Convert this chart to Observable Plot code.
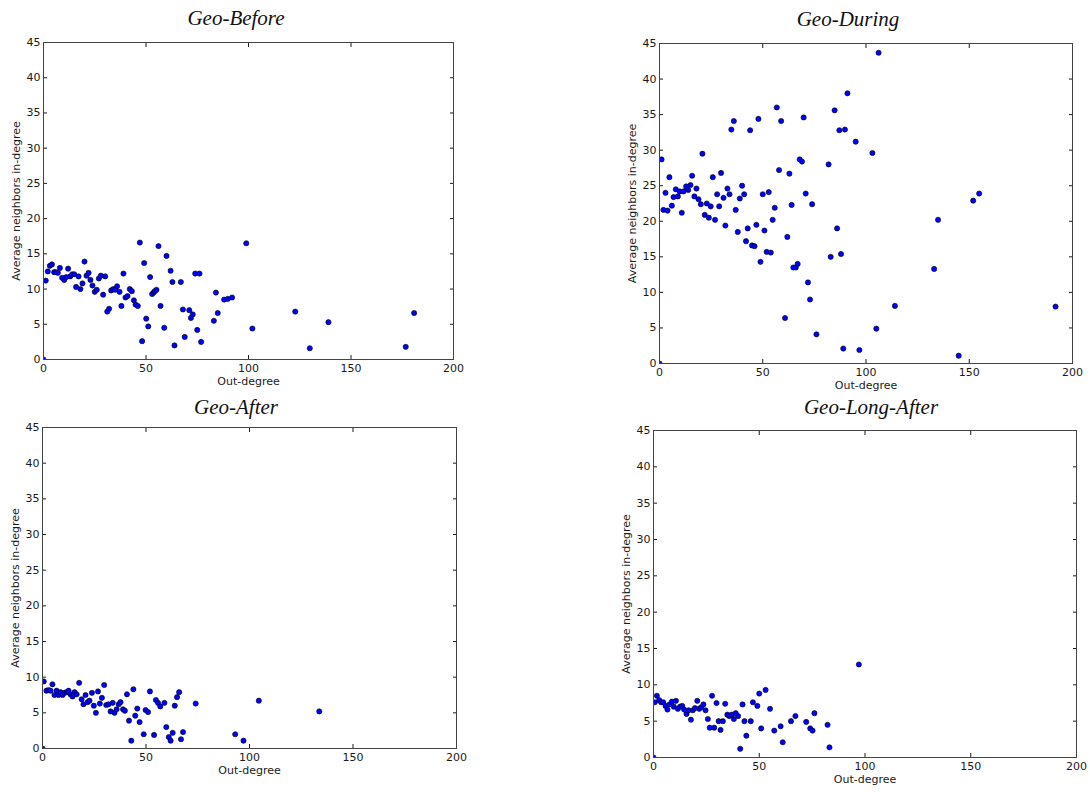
<!DOCTYPE html>
<html><head><meta charset="utf-8">
<script src="https://cdn.jsdelivr.net/npm/d3@7"></script>
<script src="https://cdn.jsdelivr.net/npm/@observablehq/plot@0.6"></script>
<style>
body{margin:0;background:#fff;width:1090px;height:792px;position:relative;overflow:hidden;font-family:"DejaVu Sans",sans-serif;}
.panel{position:absolute;}
.title{position:absolute;font-family:"Liberation Serif","Times New Roman",serif;font-style:italic;font-size:21px;line-height:1;color:#111;transform:translateX(-50%);white-space:nowrap;}
</style></head><body>
<script>
// ---- data ----
const xTicks = [0, 50, 100, 150, 200];
const yTicks = [0, 5, 10, 15, 20, 25, 30, 35, 40, 45];
const xLabel = "Out-degree";
const yLabel = "Average neighbors in-degree";
const titles = ["Geo-Before", "Geo-During", "Geo-After", "Geo-Long-After"];

const beforeOut = [0,1.1,2.1,3.1,4.1,5.2,6.0,7.0,8.0,9.1,10.1,11.1,12.0,13.0,14.0,15.0,15.9,17.1,18.0,19.0,20.0,21.0,22.0,22.9,23.9,25.0,26.0,27.0,28.0,29.1,30.1,31.1,32.0,33.0,34.0,35.0,35.9,37.1,38.0,39.0,40.0,41.0,42.1,43.1,44.1,44.9,46.0,47.0,48.1,49.1,50.1,51.1,52.0,53.0,53.7,54.3,55.1,56.1,57.1,58.9,60.0,62.0,62.9,63.9,67.0,68.0,68.9,71.1,71.9,72.8,74.0,75.0,76.1,76.9,83.1,84.1,85.0,88.1,89.9,92.0,98.9,101.9,122.8,129.9,139.0,176.7,180.8];
const beforeAvg = [0,11.2,12.5,13.3,13.5,12.4,12.4,12.3,13.0,11.6,11.3,11.7,12.9,11.8,12.1,12.1,10.3,11.8,10.0,10.8,13.9,11.9,12.3,11.3,10.5,9.6,9.9,11.5,11.9,9.2,11.8,6.8,7.2,9.8,10.0,9.9,10.4,9.6,7.6,12.2,8.8,9.0,10.0,9.7,8.4,7.8,7.6,16.6,2.6,13.7,5.8,4.7,11.7,9.3,9.5,9.7,9.9,16.1,7.6,4.5,14.7,12.6,11.0,2.0,11.0,7.1,3.2,7.0,5.9,6.4,12.2,4.2,12.2,2.5,5.5,9.5,6.6,8.5,8.6,8.8,16.5,4.4,6.8,1.6,5.3,1.8,6.6];

const duringOut = [0,1.0,1.9,2.9,3.9,4.8,6.0,6.8,7.9,8.9,9.8,10.8,11.6,12.9,13.9,15.0,15.8,16.9,17.9,18.9,20.0,20.8,21.9,22.9,23.9,24.8,25.8,26.9,27.9,28.9,29.8,31.0,31.9,32.9,33.9,34.8,36.0,36.9,37.9,38.9,40.0,41.0,41.9,42.7,43.9,44.8,46.0,46.9,47.9,48.9,50.0,50.8,51.9,52.9,53.9,54.8,55.8,56.8,57.9,58.9,60.8,61.9,62.9,64.0,64.8,66.0,66.9,67.9,69.0,69.8,70.8,71.9,72.9,73.9,76.0,81.9,82.9,84.8,86.0,87.1,87.9,89.0,89.8,91.0,95.0,96.8,103.1,105.0,106.1,114.0,133.0,134.9,144.9,151.9,154.8,191.8];
const duringAvg = [0,28.7,21.6,24.0,21.5,26.2,22.2,23.4,24.5,23.5,24.2,21.2,24.2,24.9,24.4,25.1,26.4,23.5,24.6,23.1,22.4,29.5,20.9,22.5,20.5,22.1,26.2,20.2,23.8,22.1,26.8,23.3,19.4,24.6,23.8,32.9,34.1,21.6,18.5,23.2,25.0,23.8,17.2,19.0,32.8,16.6,16.5,19.5,34.4,14.3,23.8,18.7,15.7,24.1,15.6,20.2,21.9,36.0,27.2,34.1,6.4,17.8,26.7,22.3,13.5,13.5,14.0,28.7,28.4,34.6,23.9,11.4,9.0,22.4,4.1,28.0,15.0,35.6,19.0,32.8,15.4,2.1,32.9,38.0,31.2,1.9,29.6,4.9,43.7,8.1,13.3,20.2,1.1,22.9,23.9,8.0];

const afterOut = [0,0.6,1.9,2.9,3.9,4.8,5.8,6.8,7.7,8.7,9.7,10.6,11.6,12.6,13.5,14.5,15.5,16.5,17.7,18.9,19.8,20.8,21.8,22.7,23.9,24.8,25.8,26.8,27.7,28.7,29.8,30.8,31.9,32.9,33.9,34.8,35.8,36.8,37.7,38.9,39.8,40.8,41.8,42.9,43.9,44.8,45.8,46.9,48.9,49.8,51.0,51.9,53.9,54.8,55.8,56.9,58.9,59.8,61.0,61.9,62.9,63.9,65.0,66.0,66.9,67.9,74.0,93.1,97.1,104.5,133.7];
const afterAvg = [0,9.4,8.1,8.2,8.1,9.0,7.5,8.1,7.5,7.9,7.5,7.8,7.9,8.1,7.6,7.3,7.9,7.6,9.2,6.9,6.2,7.5,6.5,6.7,7.8,6.0,5.0,8.0,6.3,7.1,8.9,6.1,6.2,5.2,6.4,5.0,5.5,6.2,6.5,5.5,5.3,7.6,3.9,1.1,8.3,4.6,5.6,3.7,2.0,5.4,5.1,8.0,1.9,6.8,6.4,5.9,6.4,3.0,1.6,1.1,2.2,6.0,7.2,7.9,1.3,2.3,6.3,2.0,1.1,6.7,5.2];

const longOut = [0,0.6,1.6,2.7,3.6,4.6,5.7,6.6,7.6,8.7,9.6,10.6,11.5,12.6,13.6,14.5,15.6,16.6,17.7,18.6,19.6,20.7,21.6,22.5,23.6,24.6,25.7,26.6,27.7,28.7,29.8,30.8,31.7,32.8,33.9,34.9,35.8,37.0,38.0,38.9,40.0,41.0,42.1,43.0,43.9,46.0,47.0,49.1,50.0,50.9,53.0,55.1,57.1,60.1,61.1,65.0,67.1,72.2,74.1,75.2,76.1,82.3,83.2,97.1];
const longAvg = [0,7.6,8.5,7.9,7.6,7.6,7.1,6.6,7.3,7.7,7.0,7.8,6.7,7.0,7.1,6.6,6.0,6.5,5.2,6.5,6.8,7.8,6.7,6.9,7.3,6.5,5.3,4.1,8.5,4.1,7.5,5.0,3.8,5.0,7.4,5.9,5.7,5.9,5.3,6.1,5.7,1.2,7.3,5.0,3.0,5.0,7.6,7.1,8.8,4.0,9.3,6.7,3.7,4.3,2.1,5.0,5.7,4.9,4.0,3.7,6.1,4.5,1.4,12.8];

// ---- layout per panel ----
const panels = [
  {title: titles[0], xs: beforeOut, ys: beforeAvg, left: 0,   top: 30,  width: 465, height: 365, mt: 12, ml: 43, mr: 12, mb: 36, tx: 236, ty: 8},
  {title: titles[1], xs: duringOut, ys: duringAvg, left: 616, top: 30,  width: 468, height: 369, mt: 13, ml: 43, mr: 12, mb: 36, tx: 848, ty: 9},
  {title: titles[2], xs: afterOut,  ys: afterAvg,  left: 0,   top: 415, width: 468, height: 369, mt: 12, ml: 42, mr: 12, mb: 36, tx: 236, ty: 397},
  {title: titles[3], xs: longOut,   ys: longAvg,   left: 610, top: 418, width: 478, height: 373, mt: 12, ml: 43, mr: 12, mb: 34, tx: 871, ty: 397}
];

for (const p of panels) {
  const data = p.xs.map((x, i) => ({x, y: p.ys[i]}));
  const chart = Plot.plot({
    width: p.width, height: p.height,
    marginTop: p.mt, marginLeft: p.ml, marginRight: p.mr, marginBottom: p.mb,
    style: {fontFamily: "'DejaVu Sans', sans-serif", fontSize: "11px", color: "#1a1a1a", background: "transparent", overflow: "visible"},
    x: {domain: [0, 200]},
    y: {domain: [0, 45]},
    marks: [
      Plot.axisX({ticks: xTicks, anchor: "bottom", tickSize: -4, tickPadding: 9, label: null}),
      Plot.axisX({ticks: xTicks, anchor: "top", tickSize: -4, tickFormat: () => "", label: null}),
      Plot.axisY({ticks: yTicks, anchor: "left", tickSize: -4, tickPadding: 7, label: null}),
      Plot.axisY({ticks: yTicks, anchor: "right", tickSize: -4, tickFormat: () => "", label: null}),
      Plot.dot(data, {x: "x", y: "y", r: 2.6, fill: "#0000ff", stroke: "#000", strokeWidth: 0.6, clip: "frame"}),
      Plot.frame({stroke: "#444", strokeWidth: 1}),
      Plot.text([xLabel], {frameAnchor: "bottom", lineAnchor: "middle", textAnchor: "middle", dy: 22, fill: "#1a1a1a", fontSize: 11}),
      Plot.text([yLabel], {frameAnchor: "left", lineAnchor: "middle", textAnchor: "middle", rotate: -90, dx: -27, fill: "#1a1a1a", fontSize: 11})
    ]
  });
  const div = document.createElement("div");
  div.className = "panel";
  div.style.left = p.left + "px";
  div.style.top = p.top + "px";
  div.appendChild(chart);
  document.body.appendChild(div);
  const t = document.createElement("div");
  t.className = "title";
  t.style.left = p.tx + "px";
  t.style.top = p.ty + "px";
  t.textContent = p.title;
  document.body.appendChild(t);
}
</script>
</body></html>
